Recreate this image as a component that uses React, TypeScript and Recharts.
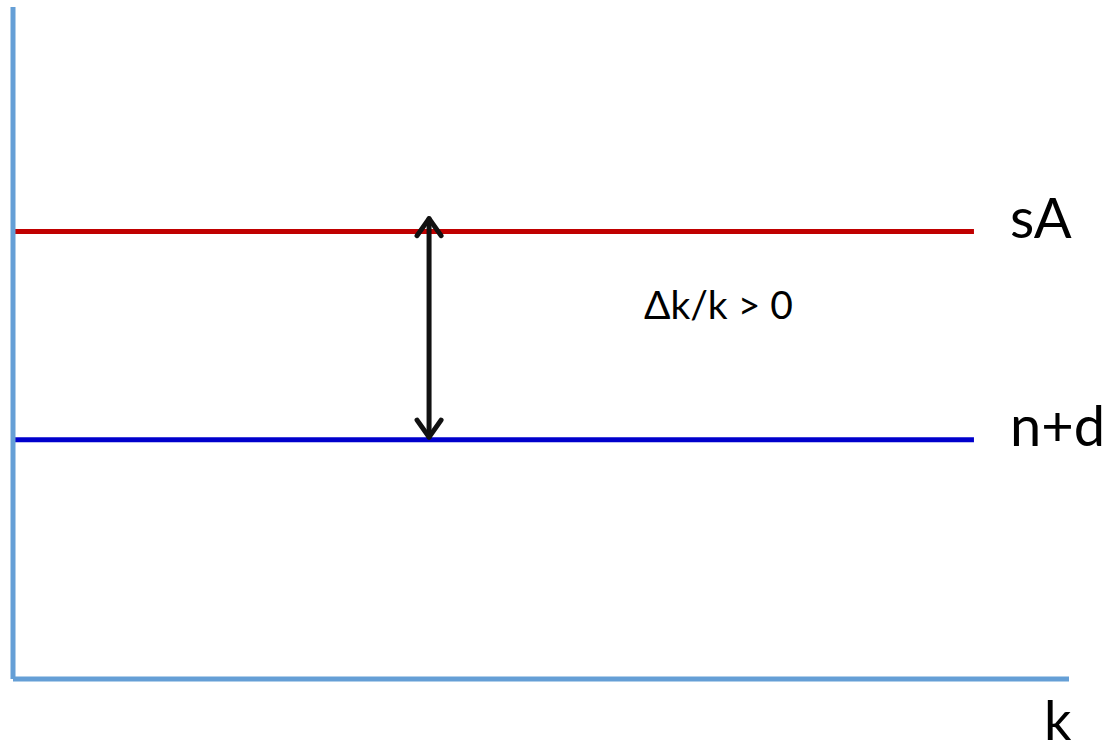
import { ComposedChart, Line, XAxis, YAxis, ReferenceLine, ReferenceDot, LabelList } from "recharts";

// k axis runs 0..100, the vertical axis 0..100 (no ticks in the original)
const kValues = [0, 91];
const sAValues = [66.6, 66.6];
const ndValues = [35.6, 35.6];

// double arrow between the two curves
const arrowK = 39.4;
const arrowFrom = 35.7;
const arrowTo = 68.8;

// growth annotation
const noteK = 66.8;
const noteY = 55.7;
const noteText = "Δk/k > 0";

const data = kValues.map((k, i) => ({ k, sA: sAValues[i], nd: ndValues[i] }));

const FONT = "Lato, 'Open Sans', sans-serif";
const AXIS = "#659FD6";

function EndLabel(props: any) {
  const { x, y, index, value, dy } = props;
  if (index !== kValues.length - 1) return null;
  return (
    <text x={x + 36} y={y + dy} fontFamily={FONT} fontSize={56} fill="#000">
      {value}
    </text>
  );
}

function DoubleArrow(props: any) {
  const { x1, y1, x2, y2 } = props;
  const x = x1;
  const top = Math.min(y1, y2);
  const bottom = Math.max(y1, y2);
  const hw = 12;
  const hh = 19;
  const s = { stroke: "#111", strokeWidth: 5, fill: "none", strokeLinecap: "round" as const, strokeLinejoin: "round" as const };
  return (
    <g>
      <line x1={x} y1={top + 2} x2={x} y2={bottom - 2} {...s} />
      <polyline points={`${x - hw},${top + hh} ${x},${top + 2} ${x + hw},${top + hh}`} {...s} />
      <polyline points={`${x - hw},${bottom - hh} ${x},${bottom - 2} ${x + hw},${bottom - hh}`} {...s} />
    </g>
  );
}

function KLabel(props: any) {
  const vb = props.viewBox || { x: 13, y: 679, width: 1056 };
  return (
    <text x={vb.x + vb.width - 25} y={740} fontFamily={FONT} fontSize={54} fill="#000">
      k
    </text>
  );
}

export default function App() {
  return (
    <div style={{ position: "absolute", left: 0, top: 0, width: 1110, height: 752, background: "#fff" }}>
      <ComposedChart width={1110} height={752} data={data} margin={{ top: 7, right: 41, bottom: 0, left: 0 }}>
        <XAxis
          type="number"
          dataKey="k"
          domain={[0, 100]}
          height={73}
          tick={false}
          tickLine={false}
          axisLine={{ stroke: AXIS, strokeWidth: 5 }}
          label={{ content: (p: any) => <KLabel {...p} /> }}
        />
        <YAxis
          type="number"
          domain={[0, 100]}
          width={13}
          tick={false}
          tickLine={false}
          axisLine={{ stroke: AXIS, strokeWidth: 5 }}
        />
        <Line
          dataKey="sA"
          name="sA"
          stroke="#C00000"
          strokeWidth={5}
          dot={false}
          activeDot={false}
          isAnimationActive={false}
        >
          <LabelList dataKey={() => "sA"} content={(p: any) => <EndLabel {...p} dy={7} />} />
        </Line>
        <Line
          dataKey="nd"
          name="n+d"
          stroke="#0000CC"
          strokeWidth={5}
          dot={false}
          activeDot={false}
          isAnimationActive={false}
        >
          <LabelList dataKey={() => "n+d"} content={(p: any) => <EndLabel {...p} dy={6} />} />
        </Line>
        <ReferenceLine
          segment={[
            { x: arrowK, y: arrowFrom },
            { x: arrowK, y: arrowTo },
          ]}
          shape={(p: any) => <DoubleArrow {...p} />}
        />
        <ReferenceDot
          x={noteK}
          y={noteY}
          r={0}
          shape={(p: any) => (
            <text x={p.cx} y={p.cy + 14} textAnchor="middle" fontFamily={FONT} fontSize={39} fill="#000">
              {noteText}
            </text>
          )}
        />
      </ComposedChart>
    </div>
  );
}
